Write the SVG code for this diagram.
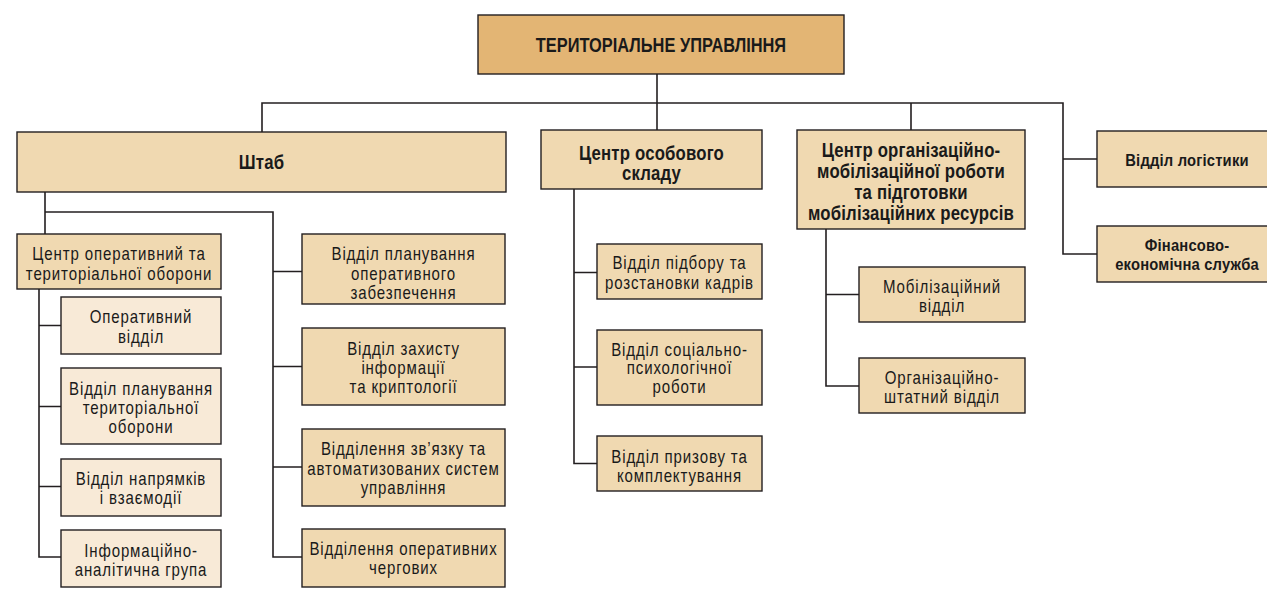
<svg xmlns="http://www.w3.org/2000/svg" width="1267" height="590" viewBox="0 0 1267 590">
<style>
.bx{stroke:#231f20;stroke-width:1.4}
.f1{fill:#E3B574}
.f2{fill:#F0D9B1}
.f3{fill:#F8EAD7}
.ln{fill:none;stroke:#231f20;stroke-width:1.6}
text{font-family:"Liberation Sans",Arial,sans-serif;fill:#1a1a1a;text-anchor:middle;transform-box:fill-box;transform-origin:center;transform:scale(0.86,1)}
.t{font-size:17.5px;letter-spacing:1px}
.b{font-size:19.5px;font-weight:bold;letter-spacing:0.2px}
.s{font-size:17.2px;font-weight:bold;letter-spacing:0.2px}
.h{font-size:20.5px;font-weight:bold;transform:scale(0.8,1)}
</style>
<rect width="1267" height="590" fill="#ffffff"/>
<g id="connectors">
<path class="ln" d="M657,74 V130"/>
<path class="ln" d="M262,132 V103 H1063 V254 H1097 M1063,159 H1097 M911,103 V130"/>
<path class="ln" d="M45,192 V234 M45,212 H273 V557 H302 M273,271.5 H302 M273,366.5 H302 M273,467 H302"/>
<path class="ln" d="M39,289 V557 H61 M39,325.5 H61 M39,406.5 H61 M39,486.5 H61"/>
<path class="ln" d="M574,189 V463.5 H597 M574,272.5 H597 M574,367 H597"/>
<path class="ln" d="M826,229 V386 H859 M826,294.5 H859"/>
</g>
<g id="n-top"><rect class="bx f1" x="478" y="15" width="366" height="59"/><text class="h" x="661" y="52">ТЕРИТОРІАЛЬНЕ УПРАВЛІННЯ</text></g>
<g id="n-shtab"><rect class="bx f2" x="17" y="132" width="489" height="60"/><text class="b" x="261.5" y="169">Штаб</text></g>
<g id="n-osob"><rect class="bx f2" x="541" y="130" width="221" height="59"/><text class="b" x="651.5"><tspan x="651.5" y="160">Центр особового</tspan><tspan x="651.5" y="180">складу</tspan></text></g>
<g id="n-org"><rect class="bx f2" x="797" y="130" width="228" height="99"/><text class="b" x="911"><tspan x="911" y="157">Центр організаційно-</tspan><tspan x="911" y="178">мобілізаційної роботи</tspan><tspan x="911" y="199">та підготовки</tspan><tspan x="911" y="220">мобілізаційних ресурсів</tspan></text></g>
<g id="n-log"><rect class="bx f2" x="1097" y="131" width="180" height="56"/><text class="s" x="1187" y="166">Відділ логістики</text></g>
<g id="n-fin"><rect class="bx f2" x="1097" y="226" width="180" height="56"/><text class="s" x="1187"><tspan x="1187" y="251">Фінансово-</tspan><tspan x="1187" y="270">економічна служба</tspan></text></g>
<g id="n-cot"><rect class="bx f2" x="17" y="234" width="204" height="55"/><text class="t" x="119"><tspan x="119" y="260">Центр оперативний та</tspan><tspan x="119" y="280">територіальної оборони</tspan></text></g>
<g id="n-plan-op"><rect class="bx f2" x="302" y="234" width="203" height="70"/><text class="t" x="403.5"><tspan x="403.5" y="260">Відділ планування</tspan><tspan x="403.5" y="280">оперативного</tspan><tspan x="403.5" y="299">забезпечення</tspan></text></g>
<g id="n-opv"><rect class="bx f3" x="61" y="297" width="160" height="57"/><text class="t" x="141"><tspan x="141" y="323">Оперативний</tspan><tspan x="141" y="343">відділ</tspan></text></g>
<g id="n-plan-ter"><rect class="bx f3" x="61" y="368" width="160" height="76"/><text class="t" x="141"><tspan x="141" y="395">Відділ планування</tspan><tspan x="141" y="414">територіальної</tspan><tspan x="141" y="433.5">оборони</tspan></text></g>
<g id="n-napr"><rect class="bx f3" x="61" y="459" width="160" height="57"/><text class="t" x="141"><tspan x="141" y="485.5">Відділ напрямків</tspan><tspan x="141" y="504.5">і взаємодії</tspan></text></g>
<g id="n-inf"><rect class="bx f3" x="61" y="530" width="160" height="57"/><text class="t" x="141"><tspan x="141" y="557.5">Інформаційно-</tspan><tspan x="141" y="576">аналітична група</tspan></text></g>
<g id="n-zah"><rect class="bx f2" x="302" y="328" width="203" height="77"/><text class="t" x="403.5"><tspan x="403.5" y="355.5">Відділ захисту</tspan><tspan x="403.5" y="374">інформації</tspan><tspan x="403.5" y="393.5">та криптології</tspan></text></g>
<g id="n-zv"><rect class="bx f2" x="302" y="429" width="203" height="77"/><text class="t" x="403.5"><tspan x="403.5" y="455.5">Відділення зв’язку та</tspan><tspan x="403.5" y="475">автоматизованих систем</tspan><tspan x="403.5" y="494.5">управління</tspan></text></g>
<g id="n-cherg"><rect class="bx f2" x="302" y="529" width="203" height="58"/><text class="t" x="403.5"><tspan x="403.5" y="555.5">Відділення оперативних</tspan><tspan x="403.5" y="574.5">чергових</tspan></text></g>
<g id="n-pidb"><rect class="bx f2" x="597" y="244" width="165" height="55"/><text class="t" x="679.5"><tspan x="679.5" y="269.5">Відділ підбору та</tspan><tspan x="679.5" y="289.5">розстановки кадрів</tspan></text></g>
<g id="n-soc"><rect class="bx f2" x="597" y="330" width="165" height="75"/><text class="t" x="679.5"><tspan x="679.5" y="356.5">Відділ соціально-</tspan><tspan x="679.5" y="374.5">психологічної</tspan><tspan x="679.5" y="393">роботи</tspan></text></g>
<g id="n-pryz"><rect class="bx f2" x="597" y="436" width="165" height="55"/><text class="t" x="679.5"><tspan x="679.5" y="463.5">Відділ призову та</tspan><tspan x="679.5" y="482">комплектування</tspan></text></g>
<g id="n-mob"><rect class="bx f2" x="859" y="267" width="166" height="55"/><text class="t" x="942"><tspan x="942" y="293">Мобілізаційний</tspan><tspan x="942" y="312">відділ</tspan></text></g>
<g id="n-shtat"><rect class="bx f2" x="859" y="358" width="166" height="55"/><text class="t" x="942"><tspan x="942" y="384.5">Організаційно-</tspan><tspan x="942" y="403">штатний відділ</tspan></text></g>
</svg>
